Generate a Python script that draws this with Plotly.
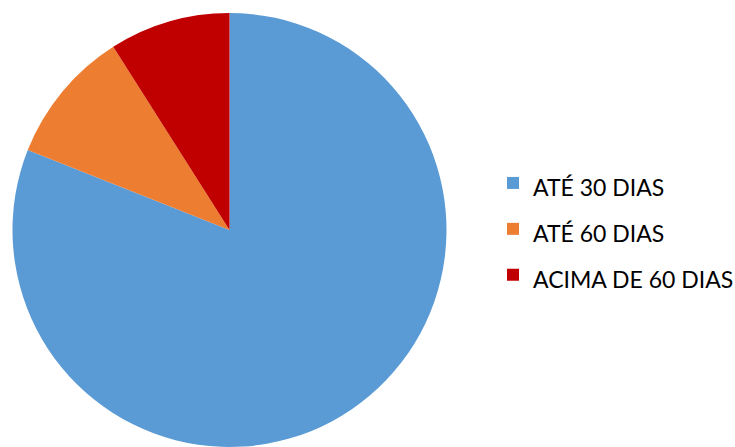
import plotly.graph_objects as go

labels = ["ATÉ 30 DIAS", "ATÉ 60 DIAS", "ACIMA DE 60 DIAS"]
values = [81, 10, 9]
colors = ["#5B9BD5", "#ED7D31", "#C00000"]

W, H = 735, 447
cx, r = 229.5, 217
fig = go.Figure(go.Pie(
    labels=[f"<span style='font-size:23px'>{l}</span>" for l in labels],
    values=values,
    marker=dict(colors=colors, line=dict(width=0)),
    sort=False,
    direction="clockwise",
    rotation=0,
    textinfo="none",
    hoverinfo="label+percent",
    domain=dict(x=[(cx - r) / W, (cx + r) / W], y=[0, 2 * r / H]),
))
fig.update_layout(
    width=W, height=H,
    margin=dict(l=0, r=0, t=0, b=0, autoexpand=False),
    paper_bgcolor="white",
    showlegend=True,
    legend=dict(
        x=493 / W, xanchor="left",
        y=(H - 229) / H, yanchor="middle",
        font=dict(family="Lato, 'Open Sans', sans-serif", size=33, color="#000000"),
        bgcolor="rgba(0,0,0,0)",
    ),
)
fig.write_html("out.html")
